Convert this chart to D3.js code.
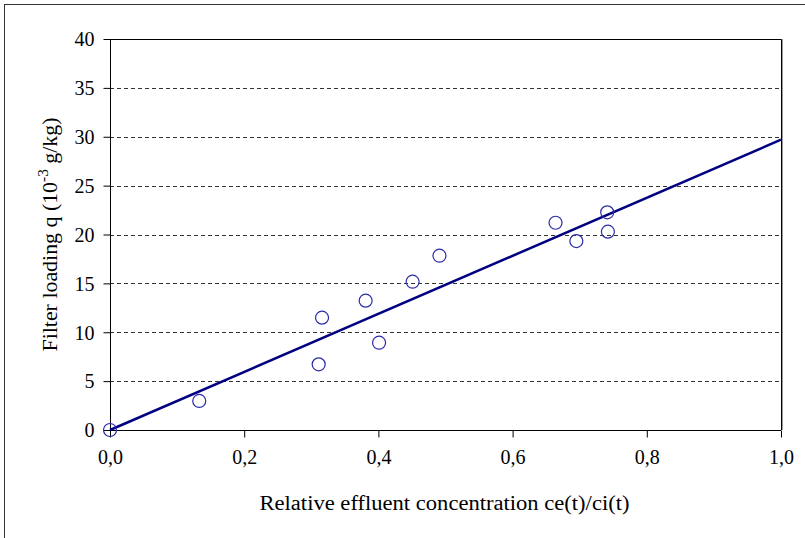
<!DOCTYPE html>
<html>
<head>
<meta charset="utf-8">
<script src="https://cdn.jsdelivr.net/npm/d3@7"></script>
<style>
  body { margin: 0; background: #fff; }
  svg { display: block; }
  text { font-family: "Liberation Serif", "Times New Roman", serif; fill: #000; }
</style>
</head>
<body>
<div id="chart"></div>
<script>
// measured points: relative effluent concentration vs filter loading
const ratio   = [0, 0.133, 0.311, 0.316, 0.381, 0.401, 0.451, 0.491, 0.664, 0.695, 0.741, 0.742];
const loading = [0, 2.97, 6.72, 11.49, 13.23, 8.93, 15.17, 17.83, 21.2, 19.33, 22.27, 20.29];
// fitted straight line through the origin
const fitX = [0, 1];
const fitY = [0, 29.7];
const xTicks = [0, 0.2, 0.4, 0.6, 0.8, 1.0];
const yTicks = [0, 5, 10, 15, 20, 25, 30, 35, 40];

const W = 805, H = 538;
const x0 = 110, x1 = 781, yb = 430, yt = 39;
const fs = 20;

const svg = d3.select('#chart').append('svg').attr('width', W).attr('height', H);

// outer chart frame
svg.append('rect').attr('x', 4.5).attr('y', 4.5).attr('width', W + 10).attr('height', H + 10)
  .attr('fill', 'none').attr('stroke', '#333').attr('stroke-width', 1);

const x = d3.scaleLinear().domain([0, 1]).range([x0, x1]);
const y = d3.scaleLinear().domain([0, 40]).range([yb, yt]);

// dashed gridlines
svg.append('g').selectAll('line').data(yTicks.filter(t => t > 0 && t < 40)).join('line')
  .attr('x1', x0).attr('x2', x1)
  .attr('y1', d => Math.round(y(d)) + 0.5).attr('y2', d => Math.round(y(d)) + 0.5)
  .attr('stroke', '#333').attr('stroke-dasharray', '4,3');

// top and right border of plot area
svg.append('path')
  .attr('d', `M${x0},${yt + 0.5}H${x1 + 0.5}V${yb}`)
  .attr('fill', 'none').attr('stroke', '#000');
svg.append('line').attr('x1', x1 + 1.5).attr('x2', x1 + 1.5).attr('y1', yt).attr('y2', yb)
  .attr('stroke', '#999');

// axes
const yAxis = d3.axisLeft(y).tickValues(yTicks).tickSize(7).tickPadding(9).tickFormat(d3.format('d'));
const gy = svg.append('g').attr('transform', `translate(${x0 + 0.5},0)`).call(yAxis);
gy.select('.domain').attr('stroke', '#000').attr('d', `M0,${yt}V${yb}`);
gy.selectAll('.tick line').attr('stroke', '#000');
gy.selectAll('.tick text').attr('font-size', fs).attr('font-family', '"Liberation Serif", serif')
  .attr('dy', '0.34em');

const xAxis = d3.axisBottom(x).tickValues(xTicks).tickSize(7).tickPadding(12)
  .tickFormat(d => d3.format('.1f')(d).replace('.', ','));
const gx = svg.append('g').attr('transform', `translate(0,${yb + 0.5})`).call(xAxis);
gx.select('.domain').attr('stroke', '#000').attr('d', `M${x0},0H${x1}`);
gx.selectAll('.tick line').attr('stroke', '#000');
gx.selectAll('.tick text').attr('font-size', fs).attr('font-family', '"Liberation Serif", serif');

// fitted line
svg.append('path')
  .datum(fitX.map((v, i) => [v, fitY[i]]))
  .attr('d', d3.line().x(d => x(d[0])).y(d => y(d[1])))
  .attr('fill', 'none').attr('stroke', '#000080').attr('stroke-width', 2.5);

// data points
svg.append('g').selectAll('circle').data(ratio.map((v, i) => [v, loading[i]])).join('circle')
  .attr('cx', d => x(d[0])).attr('cy', d => y(d[1])).attr('r', 6.5)
  .attr('fill', 'none').attr('stroke', '#2a2aa8').attr('stroke-width', 1.2);

// axis titles
svg.append('text').attr('x', 444.5).attr('y', 510)
  .attr('text-anchor', 'middle').attr('font-size', fs)
  .attr('textLength', 370).attr('lengthAdjust', 'spacingAndGlyphs')
  .text('Relative effluent concentration ce(t)/ci(t)');

const ytl = svg.append('text')
  .attr('transform', `translate(57,${(yt + yb) / 2}) rotate(-90)`)
  .attr('text-anchor', 'middle').attr('font-size', fs)
  .attr('textLength', 234).attr('lengthAdjust', 'spacingAndGlyphs');
ytl.append('tspan').text('Filter loading q (10');
ytl.append('tspan').attr('dy', -9).attr('font-size', 14).text('-3');
ytl.append('tspan').attr('dy', 9).text(' g/kg)');
</script>
</body>
</html>
